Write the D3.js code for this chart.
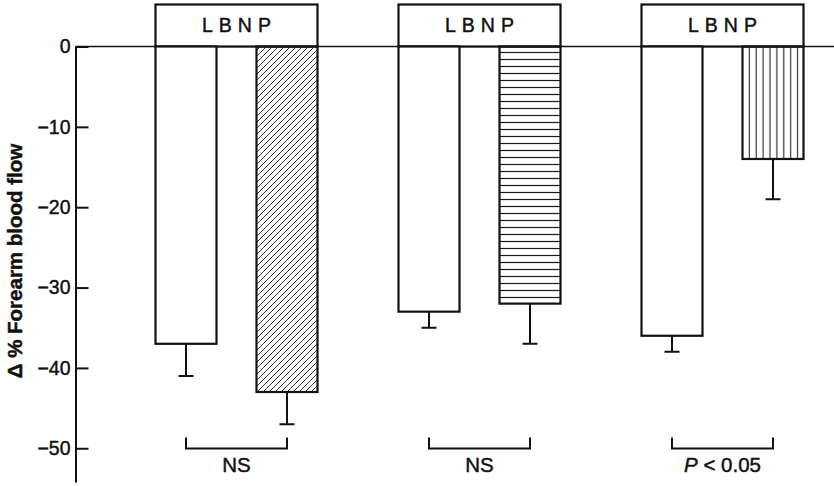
<!DOCTYPE html>
<html>
<head>
<meta charset="utf-8">
<script src="https://cdn.jsdelivr.net/npm/d3@7"></script>
<style>
  body { margin: 0; background: #fff; }
  svg text { font-family: "Liberation Sans", Arial, Helvetica, sans-serif; fill: #111; stroke: #111; stroke-width: 0.45px; }
</style>
</head>
<body>
<div id="chart"></div>
<script>
// chart values
var groups = ["g1", "g2", "g3"];
var bars = ["control", "treated"];
var controlMeans = [-37, -33, -36];
var controlSE = [4, 2, 2];
var treatedMeans = [-43, -32, -14];
var treatedSE = [4, 5, 5];
var hatches = ["diag", "horiz", "vert"];
var boxLabel = "LBNP";
var statLabels = ["NS", "NS", "P"];
var yTicks = [0, -10, -20, -30, -40, -50];
var yLabel = "\u0394 % Forearm blood flow";

var svgWidth = 834;
var svgHeight = 486;
var axisX = 75.5;

var svg = d3.select("#chart").append("svg")
  .attr("width", svgWidth)
  .attr("height", svgHeight);

// patterns
var defs = svg.append("defs");
defs.append("pattern")
  .attr("id", "diag")
  .attr("patternUnits", "userSpaceOnUse")
  .attr("width", 6).attr("height", 6)
  .append("path")
  .attr("d", "M0,6 L6,0 M-1,1 L1,-1 M5,7 L7,5")
  .attr("stroke", "#222").attr("stroke-width", 0.9);
defs.append("pattern")
  .attr("id", "horiz")
  .attr("patternUnits", "userSpaceOnUse")
  .attr("width", 10).attr("height", 7)
  .append("line")
  .attr("x1", 0).attr("x2", 10).attr("y1", 3.5).attr("y2", 3.5)
  .attr("stroke", "#1a1a1a").attr("stroke-width", 1.2);
defs.append("pattern")
  .attr("id", "vert")
  .attr("patternUnits", "userSpaceOnUse")
  .attr("width", 6.9).attr("height", 10)
  .append("line")
  .attr("x1", 3.4).attr("x2", 3.4).attr("y1", 0).attr("y2", 10)
  .attr("stroke", "#222").attr("stroke-width", 1.1);

// scales
var x0 = d3.scaleBand()
  .domain(groups)
  .range([115, 844]);

var x1 = d3.scaleBand()
  .domain(bars)
  .range([40.5, 202.5])
  .paddingInner(0.396)
  .paddingOuter(0);

var yScale = d3.scaleLinear()
  .domain([0, -54.2])
  .range([46.5, 482]);

// y axis, ticks pointing into the plot
var yAxis = d3.axisLeft(yScale)
  .tickValues(yTicks)
  .tickSizeInner(-13)
  .tickSizeOuter(0)
  .tickPadding(5);

var axisG = svg.append("g")
  .attr("transform", `translate(${axisX}, 0)`)
  .call(yAxis);
axisG.select(".domain").attr("stroke", "#111").attr("stroke-width", 2);
axisG.selectAll(".tick line").attr("stroke", "#111").attr("stroke-width", 2);
axisG.selectAll(".tick text")
  .attr("font-size", "19.5px")
  .attr("fill", "#111")
  .attr("font-family", "Liberation Sans, Arial, sans-serif");

// zero line
svg.append("line")
  .attr("x1", axisX).attr("x2", svgWidth)
  .attr("y1", yScale(0)).attr("y2", yScale(0))
  .attr("stroke", "#111").attr("stroke-width", 1.6);

var data = groups.map(function(g, i) {
  return {
    group: g,
    hatch: hatches[i],
    stat: statLabels[i],
    values: [
      { key: "control", mean: controlMeans[i], se: controlSE[i] },
      { key: "treated", mean: treatedMeans[i], se: treatedSE[i] }
    ]
  };
});

var groupG = svg.selectAll(".group")
  .data(data)
  .enter()
  .append("g")
  .attr("class", "group")
  .attr("transform", d => `translate(${x0(d.group)}, 0)`);

// LBNP boxes above zero
groupG.append("rect")
  .attr("x", x1("control"))
  .attr("y", 4.5)
  .attr("width", x1("treated") + x1.bandwidth() - x1("control"))
  .attr("height", yScale(0) - 4.5)
  .attr("fill", "#fff")
  .attr("stroke", "#111")
  .attr("stroke-width", 2.2);

groupG.append("text")
  .attr("x", (x1("control") + x1("treated") + x1.bandwidth()) / 2 + 3)
  .attr("y", 32)
  .attr("text-anchor", "middle")
  .attr("font-size", "19.5px")
  .attr("letter-spacing", "6px")
  .text(boxLabel);

// error bars
groupG.selectAll(".err")
  .data(d => d.values)
  .enter()
  .append("path")
  .attr("class", "err")
  .attr("fill", "none")
  .attr("stroke", "#111")
  .attr("stroke-width", 2)
  .attr("d", function(d) {
    var cx = x1(d.key) + x1.bandwidth() / 2;
    var yb = yScale(d.mean);
    var ye = yScale(d.mean - d.se);
    return `M${cx},${yb} V${ye} M${cx - 7.5},${ye} H${cx + 7.5}`;
  });

// bars
groupG.selectAll(".bar")
  .data(d => d.values.map(v => Object.assign({ hatch: d.hatch }, v)))
  .enter()
  .append("rect")
  .attr("class", "bar")
  .attr("x", d => x1(d.key))
  .attr("y", yScale(0))
  .attr("width", x1.bandwidth())
  .attr("height", d => yScale(d.mean) - yScale(0))
  .attr("fill", d => d.key === "control" ? "#fff" : `url(#${d.hatch})`)
  .attr("stroke", "#111")
  .attr("stroke-width", 2.2);

// comparison brackets
groupG.append("path")
  .attr("fill", "none")
  .attr("stroke", "#111")
  .attr("stroke-width", 2)
  .attr("d", function() {
    var a = x1("control") + x1.bandwidth() / 2;
    var b = x1("treated") + x1.bandwidth() / 2;
    return `M${a},437.5 V448.5 H${b} V437.5`;
  });

var stat = groupG.append("text")
  .attr("x", x0.bandwidth() / 2)
  .attr("y", 472)
  .attr("text-anchor", "middle")
  .attr("font-size", "20.5px");

stat.each(function(d) {
  var t = d3.select(this);
  if (d.stat === "P") {
    t.append("tspan").attr("font-style", "italic").text("P");
    t.append("tspan").text(" < 0.05");
  } else {
    t.text(d.stat);
  }
});

// y axis label
svg.append("text")
  .attr("transform", "rotate(-90)")
  .attr("x", -261)
  .attr("y", 22)
  .attr("text-anchor", "middle")
  .attr("font-size", "20.5px")
  .attr("font-weight", "bold")
  .text(yLabel);
</script>
</body>
</html>
